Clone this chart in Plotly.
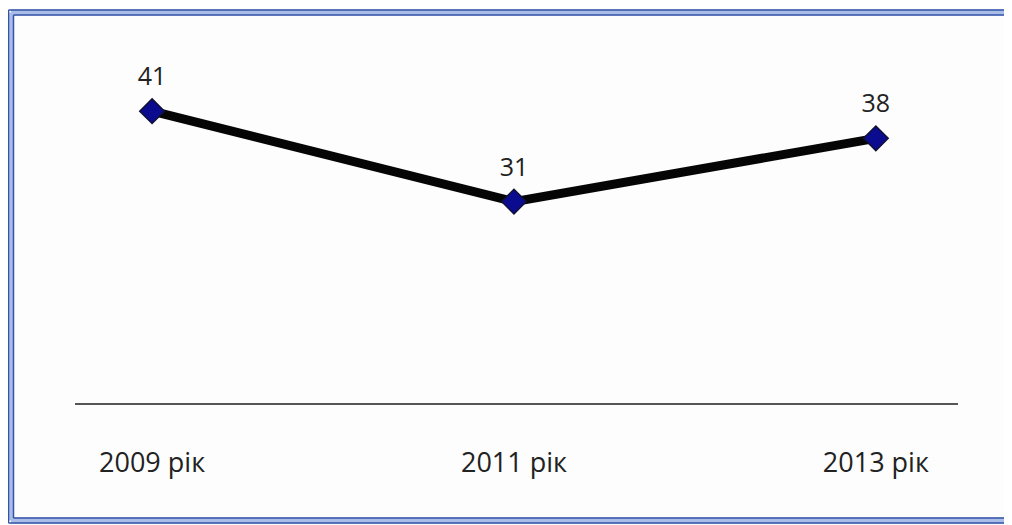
import plotly.graph_objects as go

categories = ["2009 рік", "2011 рік", "2013 рік"]
values = [41, 31, 38]
positions = [0, 1, 2]

# the page body adds an 8px offset; figure pixel = reference pixel - 8
OFF = 8
W, H = 1012 - OFF, 525 - OFF
L, R, T, B = 75 - OFF, 958 - OFF, 40 - OFF, 403 - OFF

font_family = "Open Sans, Noto Sans, sans-serif"
text_color = "#222222"

fig = go.Figure()
fig.add_trace(go.Scatter(
    x=positions, y=values,
    mode="lines+markers",
    line=dict(color="#050505", width=9),
    marker=dict(symbol="diamond", size=19, color="#0b0b8f",
                line=dict(color="#111133", width=1.5)),
    hoverinfo="skip",
    cliponaxis=False,
))
# value labels (transparent larger marker to lift the text a bit)
fig.add_trace(go.Scatter(
    x=positions, y=values,
    mode="markers+text",
    marker=dict(size=30, color="rgba(0,0,0,0)"),
    text=[str(v) for v in values],
    textposition="top center",
    textfont=dict(family=font_family, size=25, color=text_color),
    hoverinfo="skip",
    cliponaxis=False,
))


def px_x(px):
    return (px - OFF - L) / (R - L)


def px_y(py):
    return (B - (py - OFF)) / (B - T)


shapes = []
# double blue frame (reference pixel coordinates)
for (off, w, c) in [(0, 6, "#a9bde6"), (-2.5, 1.5, "#3553a8"), (2.5, 1.5, "#3553a8")]:
    x0 = 11 + off
    y0 = 12.5 + off
    y1 = 520.5 - off
    shapes.append(dict(type="line", xref="paper", yref="paper",
                       x0=px_x(x0), x1=px_x(x0), y0=px_y(y0), y1=px_y(y1),
                       line=dict(color=c, width=w)))
    shapes.append(dict(type="line", xref="paper", yref="paper",
                       x0=px_x(x0), x1=px_x(1020), y0=px_y(y0), y1=px_y(y0),
                       line=dict(color=c, width=w)))
    shapes.append(dict(type="line", xref="paper", yref="paper",
                       x0=px_x(x0), x1=px_x(1020), y0=px_y(y1), y1=px_y(y1),
                       line=dict(color=c, width=w)))

fig.update_layout(
    width=W, height=H,
    margin=dict(l=L, r=W - R, t=T, b=H - B),
    paper_bgcolor="#fdfdfd",
    plot_bgcolor="#fdfdfd",
    showlegend=False,
    shapes=shapes,
    font=dict(family=font_family, color=text_color),
    xaxis=dict(
        range=[-0.213, 2.227],
        tickvals=positions, ticktext=categories,
        showgrid=False, zeroline=False,
        showline=True, linecolor="#555555", linewidth=1.5,
        ticks="", tickfont=dict(family=font_family, size=27, color=text_color),
        ticklabelstandoff=35,
        fixedrange=True,
    ),
    yaxis=dict(
        range=[8.71, 48.88],
        visible=False, showgrid=False, zeroline=False,
        fixedrange=True,
    ),
)

fig.write_html("out.html")
